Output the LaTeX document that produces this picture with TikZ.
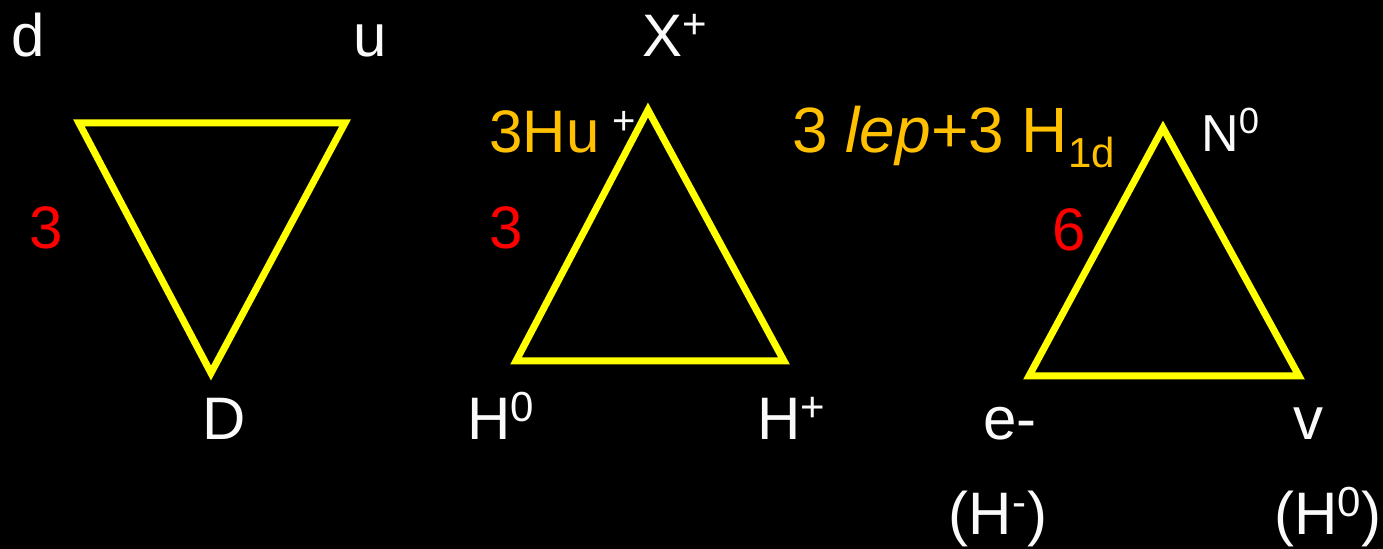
\documentclass[tikz,border=0pt]{standalone}
\usepackage{fontspec}
\setmainfont{Liberation Sans}
\definecolor{triyellow}{RGB}{255, 255, 0}
\definecolor{labelorange}{RGB}{255, 192, 0}
\definecolor{multred}{RGB}{255, 0, 0}
\definecolor{partwhite}{RGB}{250, 250, 250}

\tikzset{
  tri/.style={draw=triyellow, line width=3.5pt},
  part/.style={text=partwhite, inner sep=0pt, font=\fontsize{30}{36}\selectfont},
  small part/.style={part, font=\fontsize{26}{31}\selectfont},
  mult/.style={text=multred, inner sep=0pt, font=\fontsize{30}{36}\selectfont},
  combo/.style={text=labelorange, inner sep=0pt, font=\fontsize{30}{36}\selectfont},
}

\begin{document}
\begin{tikzpicture}[x=0.5pt, y=-0.5pt]

% background, 1383 x 549 px
\fill[black] (0, 0) rectangle (1383, 549);
\useasboundingbox (0, 0) rectangle (1383, 549);

% ============================================================
%  LEFT  --  quark triangle (points down)
% ============================================================
\coordinate (qd) at (79, 123);
\coordinate (qu) at (345, 123);
\coordinate (qD) at (211, 373);
\draw[tri] (qd) -- (qu) -- (qD) -- cycle;

\node[part, anchor=base] (dlab) at (28, 57) {d};
\node[part, anchor=base] (ulab) at (370, 57) {u};
\node[part, anchor=base west] (Dlab) at (202, 440) {D};
\node[mult, anchor=base] (mq) at (46, 249) {3};

% ============================================================
%  MIDDLE  --  Higgs triangle
% ============================================================
\coordinate (hX) at (648, 110);
\coordinate (hH0) at (516, 361);
\coordinate (hHp) at (784, 361);
\draw[tri] (hX) -- (hH0) -- (hHp) -- cycle;

\node[part, anchor=base west] (Xlab) at (642, 57) {X\textsuperscript{+}};
\node[combo, anchor=base west] (hu) at (489, 153) {3Hu};
\node[part, anchor=base west] (huplus) at (612, 135) {\fontsize{20}{24}\selectfont +};
\node[part, anchor=base west] (H0lab) at (467, 440) {H\textsuperscript{0}};
\node[part, anchor=base west] (Hplab) at (757, 440) {H\textsuperscript{+}};
\node[mult, anchor=base] (mh) at (506, 249) {3};

% ============================================================
%  RIGHT  --  lepton triangle
% ============================================================
\coordinate (lN) at (1163, 128);
\coordinate (le) at (1029, 376);
\coordinate (lv) at (1299, 376);
\draw[tri] (lN) -- (le) -- (lv) -- cycle;

% slightly larger text; subscript set by hand
\node[combo, anchor=base west, font=\fontsize{32}{38}\selectfont] (lep) at (792, 153)
  {3 \textit{lep}+3 H\raisebox{-7.5pt}{\fontsize{21}{25}\selectfont 1d}};
\node[small part, anchor=base west] (Nlab) at (1201, 152) {N\textsuperscript{0}};
\node[mult, anchor=base] (ml) at (1069, 251) {6};
\node[part, anchor=base] (elab) at (1010, 440) {e-};
\node[part, anchor=base] (vlab) at (1308, 440) {v};
\node[part, anchor=base] (Hmlab) at (998, 535) {(H\textsuperscript{-})};
\node[part, anchor=base] (H0nlab) at (1328, 535) {(H\textsuperscript{0})};

\end{tikzpicture}
\end{document}
